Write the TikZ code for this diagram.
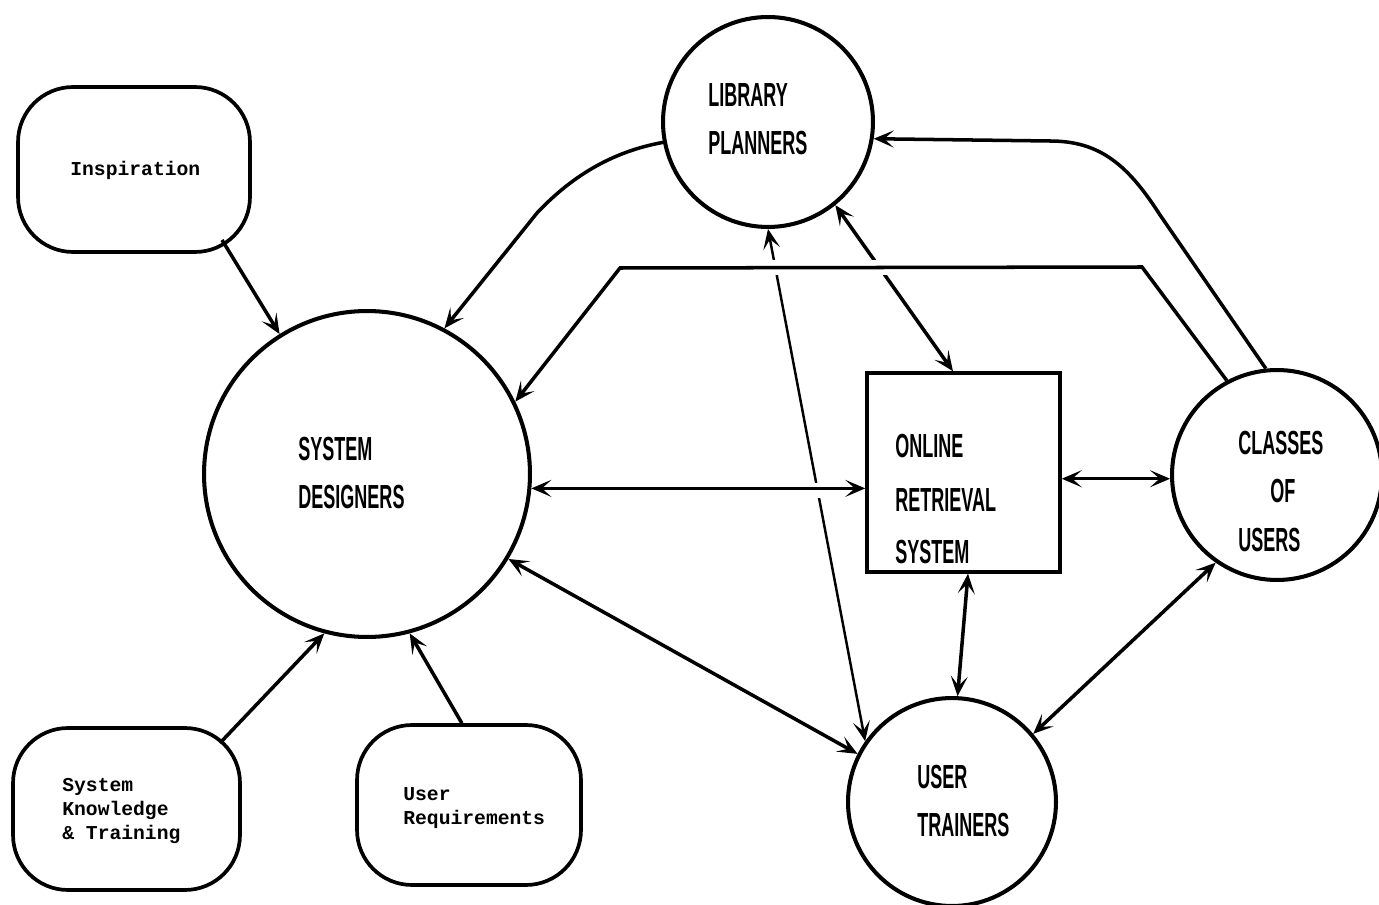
\documentclass[tikz,border=0pt]{standalone}
\usepackage{fontspec}
\usetikzlibrary{arrows.meta,calc}
\newfontfamily\labfont[FakeStretch=0.54]{Liberation Sans}
\newfontfamily\twfont{Liberation Mono}
\begin{document}
\begin{tikzpicture}[x=0.02cm,y=-0.02cm,
  circ/.style={draw, circle, line width=2.3pt, inner sep=0pt},
  rbox/.style={draw, rounded corners=1.1cm, line width=2.1pt, inner sep=0pt},
  sbox/.style={draw, rectangle, line width=2pt, inner sep=0pt},
  lab/.style={font=\labfont\bfseries\fontsize{19}{27.5}\selectfont, align=left, inner sep=0pt, anchor=north west},
  tw/.style={font=\twfont\bfseries\fontsize{11.2}{13.4}\selectfont, align=left, inner sep=0pt, anchor=west},
  con/.style={line width=2pt},
  thin con/.style={line width=1.4pt},
  gap/.style={white, line width=0.3cm},
  >={Stealth[length=0.4cm,width=0.34cm,inset=0.19cm]}
]
\useasboundingbox (0,0) rectangle (1379,905);

% shapes
\node[circ, minimum size=6.52cm] (sd) at (367,474) {};
\node[circ, minimum size=4.2cm] (lp) at (768,122) {};
\node[circ, minimum size=4.2cm] (cl) at (1277,475) {};
\node[circ, minimum size=4.16cm] (ut) at (952,802) {};
\node[sbox, minimum width=3.86cm, minimum height=3.98cm] (ors) at (963.5,472.5) {};
\node[rbox, minimum width=4.64cm, minimum height=3.3cm] (insp) at (134,169.5) {};
\node[rbox, minimum width=4.54cm, minimum height=3.24cm] (skt) at (126.5,809) {};
\node[rbox, minimum width=4.48cm, minimum height=3.2cm] (ur) at (469,805) {};

% texts
\node[lab] (sdt) at (298,437) {SYSTEM\\DESIGNERS};
\node[lab] (lpt) at (708,83) {LIBRARY\\PLANNERS};
\node[lab] (orst) at (895,434) {ONLINE\\[3pt]RETRIEVAL\\[2pt]SYSTEM};
\node[lab] (clt) at (1238,431) {CLASSES\\\hspace*{0.64cm}OF\\USERS};
\node[lab] (utt) at (917,765) {USER\\TRAINERS};
\node[tw] (inspt) at (70,170) {Inspiration};
\node[tw] (sktt) at (62,811) {System\\Knowledge\\\&~Training};
\node[tw] (urt) at (403,808) {User\\Requirements};

% inputs to system designers
\draw[->, con] ($(insp.center)+(88,70.5)$) -- (sd.122);
\draw[->, con] ($(skt.center)+(93.5,-66)$) -- (sd.-105.6);
\draw[->, con] (ur.95) -- (sd.-75.7);
\draw[->, con] (lp.191) .. controls (610,152) and (570,178) .. (537,213) -- (sd.62);

% lines crossing the long horizontal
\draw[<->, thin con] (lp.south) -- (ut.145);
\draw[<->, con] (lp.-51.8) -- ($(ors.north)+(-10.5,0)$);
\draw[gap] (640,267.5) -- (1130,267.5);
\draw[->, con] (cl.118.3) -- (1142,267) -- (620,268) -- (sd.26.6);
\draw[->, con] (cl.96.4) -- (1160,215) .. controls (1128,165) and (1100,141) .. (1050,141) -- (lp.-9.7);

% system designers <-> online retrieval system
\draw[gap] (802,490.2) -- (834,490.2);
\draw[<->, con] (sd.-5.7) -- (sd.-5.7 -| ors.west);

% remaining two-way links
\draw[<->, con] (ors.east |- cl.182) -- (cl.182);
\draw[<->, con] ($(ors.south)+(4.5,0)$) -- (ut.87.2);
\draw[<->, con] (cl.-125.6) -- (ut.40.4);
\draw[<->, con] (sd.-31.6) -- (ut.153.9);
\end{tikzpicture}
\end{document}
